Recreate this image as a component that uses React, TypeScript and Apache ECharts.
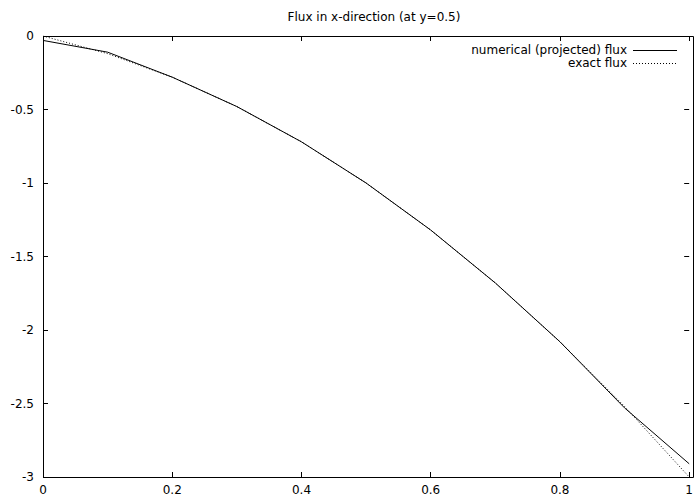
import React, { useEffect, useRef } from "react";
import * as echarts from "echarts";

const xValues = [0, 0.1, 0.2, 0.3, 0.4, 0.5, 0.6, 0.7, 0.8, 0.9, 1.0];
const numericalFlux = [-0.03, -0.11, -0.28, -0.48, -0.72, -1.0, -1.32, -1.68, -2.08, -2.53, -2.91];
const exactFlux = [0, -0.12, -0.28, -0.48, -0.72, -1.0, -1.32, -1.68, -2.08, -2.52, -3.0];
const titleText = "Flux in x-direction (at y=0.5)";
const legendNames = ["numerical (projected) flux", "exact flux"];

const FONT = "DejaVu Sans, Liberation Sans, Arial, sans-serif";
const FS = 12;
const G = { left: 43, top: 36, right: 3, bottom: 25, w: 696, h: 502 };

export default function App() {
  const ref = useRef<HTMLDivElement>(null);
  useEffect(() => {
    if (!ref.current) return;
    const chart = echarts.init(ref.current, null, { renderer: "svg" });
    const axisLine = { show: false, onZero: false };
    const tick = { show: true, inside: true, length: 5, lineStyle: { color: "#000", width: 1 } };
    const label = { color: "#000", fontFamily: FONT, fontSize: FS };
    chart.setOption({
      animation: false,
      backgroundColor: "#fff",
      title: {
        text: titleText,
        left: 369,
        textAlign: "center",
        top: 6,
        textStyle: { color: "#000", fontFamily: FONT, fontSize: FS, fontWeight: "normal" },
      },
      grid: { left: G.left, right: G.right, top: G.top, bottom: G.bottom, containLabel: false },
      xAxis: [
        {
          type: "value",
          min: 0,
          max: 1,
          interval: 0.2,
          position: "bottom",
          axisLine,
          axisTick: tick,
          splitLine: { show: false },
          axisLabel: { ...label, margin: 7, formatter: (v: number) => String(Math.round(v * 10) / 10) },
        },
        {
          type: "value",
          min: 0,
          max: 1,
          interval: 0.2,
          position: "top",
          axisLine,
          axisTick: tick,
          splitLine: { show: false },
          axisLabel: { show: false },
        },
      ],
      yAxis: [
        {
          type: "value",
          min: -3,
          max: 0,
          interval: 0.5,
          position: "left",
          axisLine,
          axisTick: tick,
          splitLine: { show: false },
          axisLabel: { ...label, margin: 9 },
        },
        {
          type: "value",
          min: -3,
          max: 0,
          interval: 0.5,
          position: "right",
          axisLine,
          axisTick: tick,
          splitLine: { show: false },
          axisLabel: { show: false },
        },
      ],
      series: [
        {
          name: legendNames[0],
          type: "line",
          data: xValues.map((x, i) => [x, numericalFlux[i]]),
          symbol: "none",
          lineStyle: { color: "#000", width: 1 },
        },
        {
          name: legendNames[1],
          type: "line",
          data: xValues.map((x, i) => [x, exactFlux[i]]),
          symbol: "none",
          lineStyle: { color: "#000", width: 1, type: [1, 2] },
        },
      ],
      graphic: [
        {
          type: "rect",
          z: 100,
          shape: { x: G.left + 0.5, y: G.top + 0.5, width: G.w - G.left - G.right, height: G.h - G.top - G.bottom },
          style: { fill: "none", stroke: "#000", lineWidth: 1 },
          silent: true,
        },
        {
          type: "text",
          x: 627,
          y: 50,
          style: { text: legendNames[0], fill: "#000", font: `${FS}px ${FONT}`, align: "right", verticalAlign: "middle" },
        },
        {
          type: "line",
          shape: { x1: 633, y1: 50.5, x2: 677, y2: 50.5 },
          style: { stroke: "#000", lineWidth: 1 },
        },
        {
          type: "text",
          x: 627,
          y: 63,
          style: { text: legendNames[1], fill: "#000", font: `${FS}px ${FONT}`, align: "right", verticalAlign: "middle" },
        },
        {
          type: "line",
          shape: { x1: 633, y1: 63.5, x2: 677, y2: 63.5 },
          style: { stroke: "#000", lineWidth: 1, lineDash: [1, 2] },
        },
      ],
    });
    return () => chart.dispose();
  }, []);
  return <div ref={ref} style={{ position: "absolute", left: 0, top: 0, width: 696, height: 502 }} />;
}
